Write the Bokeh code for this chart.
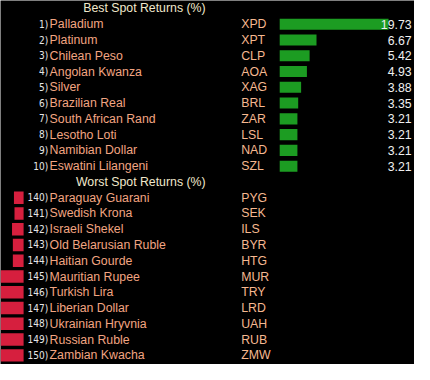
from bokeh.plotting import figure
from bokeh.models import Range1d, ColumnDataSource
from bokeh.core.properties import value
from bokeh.embed import file_html
from bokeh.resources import INLINE

# ---- data ----
best_ranks = [1, 2, 3, 4, 5, 6, 7, 8, 9, 10]
best_names = ["Palladium", "Platinum", "Chilean Peso", "Angolan Kwanza", "Silver",
              "Brazilian Real", "South African Rand", "Lesotho Loti", "Namibian Dollar",
              "Eswatini Lilangeni"]
best_codes = ["XPD", "XPT", "CLP", "AOA", "XAG", "BRL", "ZAR", "LSL", "NAD", "SZL"]
best_values = [19.73, 6.67, 5.42, 4.93, 3.88, 3.35, 3.21, 3.21, 3.21, 3.21]

worst_ranks = [140, 141, 142, 143, 144, 145, 146, 147, 148, 149, 150]
worst_names = ["Paraguay Guarani", "Swedish Krona", "Israeli Shekel", "Old Belarusian Ruble",
               "Haitian Gourde", "Mauritian Rupee", "Turkish Lira", "Liberian Dollar",
               "Ukrainian Hryvnia", "Russian Ruble", "Zambian Kwacha"]
worst_codes = ["PYG", "SEK", "ILS", "BYR", "HTG", "MUR", "TRY", "LRD", "UAH", "RUB", "ZMW"]
worst_values = [-1.75, -1.65, -2.1, -1.95, -1.95, -5.5, -6.0, -7.0, -9.0, -12.0, -15.0]

best_title = "Best Spot Returns (%)"
worst_title = "Worst Spot Returns (%)"

# ---- layout (reference pixel space 430 x 380) ----
W, H = 414, 364
REF_W, REF_H = 430.0, 380.0
ROW0, ROWH = 24.8, 16.46          # centre of first row, row pitch (ref px)
PX_PER_UNIT = 5.73                 # bar scale, ref px per percentage point
BEST_ZERO, WORST_ZERO = 290.0, 24.0

x_best = Range1d(-BEST_ZERO / PX_PER_UNIT, (REF_W - BEST_ZERO) / PX_PER_UNIT)
y_rows = Range1d((REF_H - ROW0) / ROWH, -ROW0 / ROWH)

p = figure(width=W, height=H, x_range=x_best, y_range=y_rows,
           output_backend="svg", toolbar_location=None,
           x_axis_location=None, y_axis_location=None, min_border=0,
           background_fill_color="#000000", border_fill_color="#000000")
p.outline_line_color = None
p.xgrid.visible = False
p.ygrid.visible = False
p.extra_x_ranges = {
    "worst": Range1d(-WORST_ZERO / PX_PER_UNIT, (REF_W - WORST_ZERO) / PX_PER_UNIT),
    "px": Range1d(0, REF_W),
}

best_rows = list(range(len(best_values)))
worst_rows = [len(best_values) + 1 + i for i in range(len(worst_values))]

FONT = value("Liberation Sans")
FS = "12.3px"

# bars
p.hbar(y=best_rows, left=0, right=best_values, height=0.70,
       fill_color="#1c9c22", line_color=None)
p.hbar(y=worst_rows, left=worst_values, right=0, height=0.79,
       fill_color="#d61f3e", line_color=None, x_range_name="worst")

# headers
p.text(x=[213], y=[-1], text=[best_title], x_range_name="px",
       text_align="right", text_baseline="middle", text_font=FONT,
       text_font_size=FS, text_color="#f1e8cc")
p.text(x=[213], y=[len(best_values)], text=[worst_title], x_range_name="px",
       text_align="right", text_baseline="middle", text_font=FONT,
       text_font_size=FS, text_color="#f1e8cc")

rows = best_rows + worst_rows
ranks = [f"{r})" for r in best_ranks + worst_ranks]
names = best_names + worst_names
codes = best_codes + worst_codes

p.text(x=[49.5] * len(rows), y=rows, text=ranks, x_range_name="px",
       text_align="right", text_baseline="middle", text_font=value("DejaVu Sans Condensed"),
       text_font_size="10px", text_color="#e6e6e6")
p.text(x=[51] * len(rows), y=rows, text=names, x_range_name="px",
       text_align="left", text_baseline="middle", text_font=FONT,
       text_font_size=FS, text_color="#f2a582")
p.text(x=[250] * len(rows), y=rows, text=codes, x_range_name="px",
       text_align="left", text_baseline="middle", text_font=FONT,
       text_font_size=FS, text_color="#f6b890")
p.text(x=[427] * len(best_rows), y=best_rows, text=[f"{v:.2f}" for v in best_values],
       x_range_name="px", text_align="right", text_baseline="middle", text_font=FONT,
       text_font_size=FS, text_color="#f0f0f0")

open("out.html", "w").write(file_html(p, INLINE))
